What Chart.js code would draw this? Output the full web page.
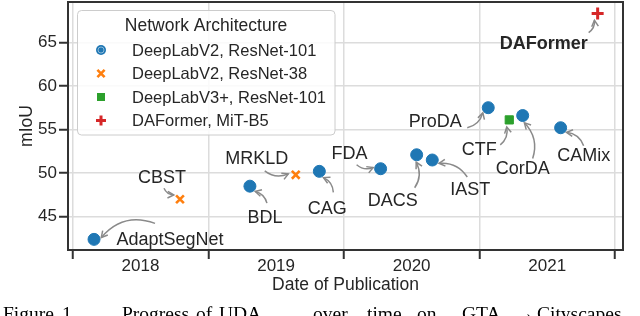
<!DOCTYPE html>
<html><head><meta charset="utf-8">
<script src="https://cdn.jsdelivr.net/npm/chart.js@4.4.1/dist/chart.umd.min.js"></script>
<style>html,body{margin:0;padding:0;background:#fff}#wrap{width:640px;height:316px;position:relative}</style>
</head><body><div id="wrap"><canvas id="c" width="640" height="316"></canvas></div>
<script>
// ---- data ----
const methods  = ['AdaptSegNet','CBST','BDL','MRKLD','CAG','FDA','DACS','IAST','ProDA','CTF','CorDA','CAMix','DAFormer'];
const pubDates = [2018.157, 2018.791, 2019.307, 2019.645, 2019.819, 2020.271, 2020.537, 2020.652, 2021.065, 2021.220, 2021.319, 2021.599, 2021.872];
const miou     = [42.4, 47.0, 48.5, 49.8, 50.2, 50.5, 52.1, 51.5, 57.5, 56.1, 56.6, 55.2, 68.3];
const archOf   = [0, 1, 0, 1, 0, 0, 0, 0, 0, 2, 0, 0, 3];
const archNames = ['DeepLabV2, ResNet-101','DeepLabV2, ResNet-38','DeepLabV3+, ResNet-101','DAFormer, MiT-B5'];
const yearLabels = ['2018','2019','2020','2021'];
const yearBounds = [2018, 2019, 2020, 2021, 2022];
const yTicks = [45, 50, 55, 60, 65];
const xTitle = 'Date of Publication';
const yTitle = 'mIoU';
const legendTitle = 'Network Architecture';
const captionWords = ['Figure','1.','Progress','of','UDA','over','time','on','GTA','\u2192','Cityscapes'];

// ---- styles / layout ----
const FONT = '"Liberation Sans", Arial, Helvetica, sans-serif';
const TXT = '#262626';
const archStyle = [
  {color:'#1f77b4', pointStyle:'circle',   radius:6,   borderWidth:1},
  {color:'#ff7f0e', pointStyle:'crossRot', radius:5.5, borderWidth:2.6},
  {color:'#2ca02c', pointStyle:'rect',     radius:5.8, borderWidth:1},
  {color:'#d62728', pointStyle:'cross',    radius:6,   borderWidth:3}
];
const labelLayout = {
  AdaptSegNet:{dx:76,dy:-1,sx:-15,sy:-15,rad:0.35},
  CBST:{dx:-18,dy:-23,sx:2,sy:12},
  BDL:{dx:15,dy:30,sx:2,sy:-13},
  MRKLD:{dx:-39,dy:-17,sx:8,sy:13},
  CAG:{dx:8,dy:36,sx:6,sy:-15},
  FDA:{dx:-31,dy:-16,sx:7,sy:12},
  DACS:{dx:-24,dy:45,sx:22,sy:-12},
  IAST:{dx:38,dy:29,sx:-3,sy:-12},
  ProDA:{dx:-53,dy:13,sx:32,sy:7},
  CTF:{dx:-30,dy:29,sx:21,sy:-4},
  CorDA:{dx:0,dy:52,sx:10,sy:-9},
  CAMix:{dx:23,dy:27,sx:0,sy:-9},
  DAFormer:{dx:-54,dy:29,sx:45,sy:-10,bold:true}
};
const captionX = [3, 62, 122, 196, 219, 313, 367, 417, 462, 515, 537];

const datasets = archNames.map((name, a) => {
  const st = archStyle[a];
  const pts = [];
  methods.forEach((m, i) => { if (archOf[i] === a) pts.push({x: pubDates[i], y: miou[i], name: m}); });
  return {
    label: name, data: pts,
    pointStyle: st.pointStyle, pointRadius: st.radius, pointHoverRadius: st.radius,
    pointBorderWidth: st.borderWidth,
    backgroundColor: st.color, borderColor: st.color, clip: false
  };
});

const isInt = v => Math.abs(v - Math.round(v)) < 1e-6;

function drawArrow(ctx, S, P, rad) {
  let vx = S.x - P.x, vy = S.y - P.y;
  const L0 = Math.hypot(vx, vy);
  const E = {x: P.x + vx / L0 * 7.5, y: P.y + vy / L0 * 7.5};
  const dx = E.x - S.x, dy = E.y - S.y;
  const C = {x: (S.x + E.x) / 2 - rad * dy, y: (S.y + E.y) / 2 + rad * dx};
  ctx.beginPath();
  ctx.moveTo(S.x, S.y);
  ctx.quadraticCurveTo(C.x, C.y, E.x, E.y);
  ctx.stroke();
  const ang = Math.atan2(E.y - C.y, E.x - C.x);
  const hl = 7, ha = 0.5;
  ctx.beginPath();
  ctx.moveTo(E.x - hl * Math.cos(ang - ha), E.y - hl * Math.sin(ang - ha));
  ctx.lineTo(E.x, E.y);
  ctx.lineTo(E.x - hl * Math.cos(ang + ha), E.y - hl * Math.sin(ang + ha));
  ctx.stroke();
}

function drawMarker(ctx, a, x, y) {
  const st = archStyle[a];
  ctx.save();
  ctx.fillStyle = st.color; ctx.strokeStyle = st.color;
  if (st.pointStyle === 'circle') {
    ctx.beginPath(); ctx.arc(x, y, 5, 0, Math.PI * 2); ctx.fill();
    ctx.strokeStyle = 'rgba(255,255,255,0.6)'; ctx.lineWidth = 0.8;
    ctx.beginPath(); ctx.arc(x, y, 3, 0, Math.PI * 2); ctx.stroke();
  } else if (st.pointStyle === 'crossRot') {
    ctx.lineWidth = 2.6; const r = 3.6;
    ctx.beginPath(); ctx.moveTo(x - r, y - r); ctx.lineTo(x + r, y + r);
    ctx.moveTo(x - r, y + r); ctx.lineTo(x + r, y - r); ctx.stroke();
  } else if (st.pointStyle === 'rect') {
    ctx.fillRect(x - 4, y - 4, 8, 8);
  } else {
    ctx.lineWidth = 3; const r = 5;
    ctx.beginPath(); ctx.moveTo(x - r, y); ctx.lineTo(x + r, y);
    ctx.moveTo(x, y - r); ctx.lineTo(x, y + r); ctx.stroke();
  }
  ctx.restore();
}

const decor = {
  id: 'decor',
  afterDatasetsDraw(chart) {
    const ctx = chart.ctx, ca = chart.chartArea;
    ctx.save();
    // frame
    ctx.strokeStyle = '#333333'; ctx.lineWidth = 2;
    ctx.strokeRect(ca.left, ca.top, ca.right - ca.left, ca.bottom - ca.top);
    // annotations
    chart.data.datasets.forEach((ds, di) => {
      const meta = chart.getDatasetMeta(di);
      meta.data.forEach((el, j) => {
        const name = ds.data[j].name;
        const L = labelLayout[name];
        if (!L) return;
        const T = {x: el.x + L.dx, y: el.y + L.dy};
        const S = {x: T.x + L.sx, y: T.y + L.sy};
        ctx.strokeStyle = '#8a8a8a'; ctx.lineWidth = 1.5; ctx.lineCap = 'butt'; ctx.lineJoin = 'miter';
        drawArrow(ctx, S, {x: el.x, y: el.y}, L.rad != null ? L.rad : 0.3);
        ctx.font = (L.bold ? 'bold ' : '') + '18px ' + FONT;
        ctx.fillStyle = TXT; ctx.textAlign = 'center'; ctx.textBaseline = 'alphabetic';
        ctx.fillText(name, T.x, T.y + 18 * 0.358);
      });
    });
    // legend
    ctx.fillStyle = 'rgba(255,255,255,0.85)'; ctx.strokeStyle = '#cccccc'; ctx.lineWidth = 1;
    ctx.beginPath(); ctx.roundRect(77.5, 10.5, 257.5, 124.5, 4); ctx.fill(); ctx.stroke();
    ctx.fillStyle = TXT; ctx.textAlign = 'center'; ctx.textBaseline = 'alphabetic';
    ctx.font = '17.5px ' + FONT;
    ctx.fillText(legendTitle, 206, 24.3 + 17.5 * 0.358);
    ctx.textAlign = 'left'; ctx.font = '16.5px ' + FONT;
    const ly = [50, 73.5, 97, 120.5];
    chart.data.datasets.forEach((ds, a) => {
      drawMarker(ctx, a, 101, ly[a]);
      ctx.fillStyle = TXT;
      ctx.fillText(ds.label, 132, ly[a] + 16.5 * 0.358);
    });
    ctx.restore();
  },
  afterDraw(chart) {
    const ctx = chart.ctx;
    ctx.save();
    ctx.font = '19.5px "Liberation Serif", "Times New Roman", serif';
    ctx.fillStyle = '#000'; ctx.textAlign = 'left'; ctx.textBaseline = 'alphabetic';
    captionWords.forEach((w, i) => ctx.fillText(w, captionX[i], 320));
    ctx.restore();
  }
};

new Chart(document.getElementById('c'), {
  type: 'scatter',
  data: {datasets},
  options: {
    responsive: false, animation: false, devicePixelRatio: 1,
    layout: {autoPadding: false, padding: {top: 2, right: 17, left: 0, bottom: 0}},
    plugins: {legend: {display: false}, tooltip: {enabled: false}},
    scales: {
      x: {
        type: 'linear', min: 2017.965, max: 2022.059,
        afterBuildTicks: s => {
          const t = [];
          yearBounds.forEach((y, i) => { t.push({value: y}); if (i < yearLabels.length) t.push({value: y + 0.5}); });
          s.ticks = t;
        },
        afterFit: s => { s.height = 66; s.paddingLeft = 0; s.paddingRight = 0; s.paddingTop = 0; s.paddingBottom = 0; },
        border: {display: false},
        grid: {
          color: c => (c.tick && isInt(c.tick.value)) ? '#dcdcdc' : 'rgba(0,0,0,0)',
          lineWidth: 1.5, tickLength: 9, tickWidth: 2,
          tickColor: c => (c.tick && isInt(c.tick.value)) ? '#333333' : 'rgba(0,0,0,0)'
        },
        ticks: {
          autoSkip: false, maxRotation: 0, minRotation: 0, padding: -3, color: TXT,
          font: {family: FONT, size: 17},
          callback: v => isInt(v) ? '' : yearLabels[Math.floor(v) - 2018]
        },
        title: {display: true, text: xTitle, color: TXT, font: {family: FONT, size: 17.5},
                padding: {top: 0, bottom: 20}}
      },
      y: {
        type: 'linear', min: 41.18, max: 69.62,
        afterBuildTicks: s => { s.ticks = yTicks.map(v => ({value: v})); },
        afterFit: s => { s.width = 68; s.paddingLeft = 0; s.paddingRight = 0; s.paddingTop = 0; s.paddingBottom = 0; },
        border: {display: false},
        grid: {color: '#dcdcdc', lineWidth: 1.5, tickLength: 9, tickWidth: 2, tickColor: '#333333'},
        ticks: {padding: 2, color: TXT, font: {family: FONT, size: 17}},
        title: {display: true, text: yTitle, color: TXT, font: {family: FONT, size: 17.5},
                padding: {top: 17, bottom: 0}}
      }
    }
  },
  plugins: [decor]
});
</script></body></html>
